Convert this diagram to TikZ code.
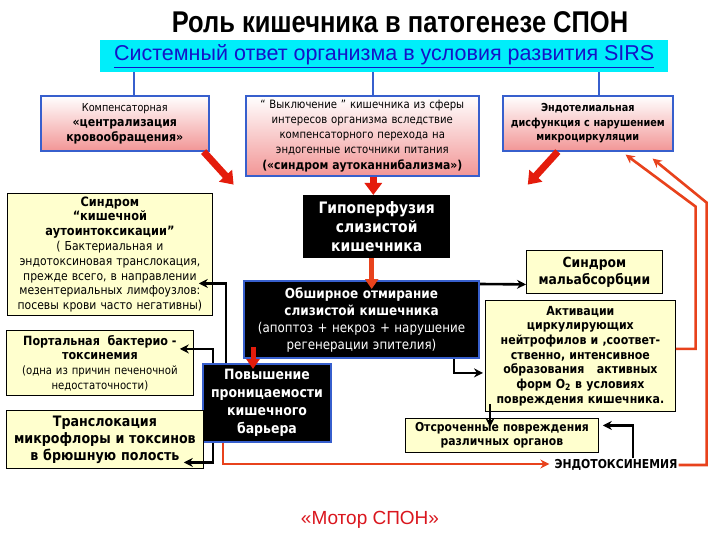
\documentclass[tikz,border=0pt]{standalone}
\usepackage{fontspec}
\setmainfont{DejaVu Sans}[FakeStretch=0.88]
\newfontfamily\titlefont{Liberation Sans}[FakeStretch=0.85]
\newfontfamily\plainfont{Liberation Sans}
\usetikzlibrary{arrows.meta,positioning,calc}
\definecolor{barcyan}{RGB}{0,238,250}
\definecolor{linkblue}{RGB}{20,20,200}
\definecolor{edgeblue}{RGB}{55,95,205}
\definecolor{pinkbot}{RGB}{242,150,150}
\definecolor{paleyel}{RGB}{255,255,206}
\definecolor{arrred}{RGB}{228,28,12}
\definecolor{lineorange}{RGB}{232,66,28}
\definecolor{motorred}{RGB}{218,22,30}
\newcommand{\fsz}[2]{\fontsize{#1}{#2}\selectfont}
\begin{document}
\begin{tikzpicture}[x=1pt,y=-1pt,
    pinkbox/.style={draw=edgeblue,line width=1.6pt,top color=white,bottom color=pinkbot,
      align=center,inner sep=2pt,anchor=north west},
    yelbox/.style={draw=black,line width=0.8pt,fill=paleyel,align=center,inner sep=2pt,anchor=north west},
    darkbox/.style={fill=black,text=white,align=center,inner sep=2pt,anchor=north west},
    bluelink/.style={draw=edgeblue,line width=2pt},
    fatarrow/.style={draw=arrred,line width=7pt,-{Triangle[width=17pt,length=12pt]}},
    blkarrow/.style={draw=black,line width=2.6pt,-{Stealth[length=9pt,width=9pt]}},
    redarrow/.style={draw=lineorange,line width=2.6pt,-{Stealth[length=9pt,width=9pt]}}]
    \path[fill=white] (0,0) rectangle (720,540);
    \useasboundingbox (0,0) rectangle (720,540);
    % Title and top bar
    \node[font=\titlefont\bfseries\fsz{30}{32}] (title) at (400,22) {Роль кишечника в патогенезе СПОН};
    \node[fill=barcyan,minimum width=568pt,minimum height=32pt,anchor=north west,
        font=\plainfont\fsz{21.5}{24},text=linkblue] (sirs) at (100,40)
        {\underline{Системный ответ организма в условия развития SIRS}};
    % Upper row
    \node[pinkbox,text width=164pt,minimum height=55pt,font=\fsz{11}{15}] (compA) at (40,95)
        {Компенсаторная\\{\bfseries\fsz{12.5}{15}«централизация\\кровообращения»}};
    \node[pinkbox,text width=229pt,minimum height=80pt,font=\fsz{11.5}{15.2}] (compB) at (245,95)
        {“ Выключение ” кишечника из сферы\\интересов организма вследствие\\компенсаторного перехода на\\эндогенные источники питания\\{\bfseries\fsz{12.3}{15.2}(«синдром аутоканнибализма»)}};
    \node[pinkbox,text width=166pt,minimum height=55pt,font=\bfseries\fsz{11}{14.5}] (compC) at (502,95)
        {Эндотелиальная\\дисфункция с нарушением\\микроциркуляции};
    \draw[bluelink] ([xshift=9pt]compA.north) -- ([xshift=9pt]compA.north |- sirs.south);
    \draw[bluelink] ([xshift=11pt]compB.north) -- ([xshift=11pt]compB.north |- sirs.south);
    \draw[bluelink] ([xshift=11pt]compC.north) -- ([xshift=11pt]compC.north |- sirs.south);
    % Middle column
    \node[darkbox,text width=143pt,minimum height=63pt,font=\bfseries\fsz{15.8}{19}] (hypo) at (303,195)
        {Гипоперфузия\\слизистой\\кишечника};
    \node[darkbox,draw=edgeblue,line width=2pt,text width=231pt,minimum height=77pt,font=\fsz{13.5}{17}] (death) at (243,280)
        {{\bfseries\fsz{13.7}{17}Обширное отмирание\\слизистой кишечника}\\(апоптоз + некроз + нарушение\\регенерации эпителия)};
    \node[darkbox,draw=edgeblue,line width=2pt,text width=124pt,minimum height=78pt,font=\bfseries\fsz{14.2}{18}] (perm) at (202,363)
        {Повышение\\проницаемости\\кишечного\\барьера};
    % Left column
    \node[yelbox,text width=201pt,minimum height=122pt,font=\fsz{12.3}{14.8}] (autoint) at (7,193)
        {{\bfseries\fsz{12.9}{14.8}Синдром\\ “кишечной\\аутоинтоксикации”}\\( Бактериальная и\\эндотоксиновая транслокация,\\прежде всего, в направлении\\мезентериальных лимфоузлов:\\посевы крови часто негативны)};
    \node[yelbox,text width=183pt,minimum height=65pt,font=\fsz{11.5}{14.6}] (portal) at (6,330)
        {{\bfseries\fsz{12.7}{14.6}Портальная\ \ бактерио -\\токсинемия}\\(одна из причин печеночной\\недостаточности)};
    \node[yelbox,text width=193pt,minimum height=58pt,font=\bfseries\fsz{14.4}{17}] (transl) at (6,410)
        {Транслокация\\микрофлоры и токсинов\\в брюшную полость};
    % Right column
    \node[yelbox,text width=132pt,minimum height=43pt,font=\bfseries\fsz{14}{17}] (malabs) at (526,250)
        {Синдром\\мальабсорбции};
    \node[yelbox,text width=186pt,minimum height=111pt,font=\bfseries\fsz{12.5}{14.7}] (activ) at (485,300)
        {Активации\\циркулирующих\\нейтрофилов и ,соответ-\\ственно, интенсивное\\образования\quad активных\\форм O\textsubscript{2} в условиях\\повреждения кишечника.};
    \node[yelbox,text width=189pt,minimum height=34pt,font=\bfseries\fsz{12.3}{14.5}] (delayed) at (405,418)
        {Отсроченные повреждения\\различных органов};
    \node[font=\bfseries\fsz{12.3}{14},inner sep=1pt] (endotox) at (616,465) {ЭНДОТОКСИНЕМИЯ};
    \node[text=motorred,font=\plainfont\fsz{19}{22}] (motor) at (370,520) {«Мотор СПОН»};
    % Thick red arrows
    \draw[fatarrow] ([xshift=-6pt]compA.south east) -- ++(30,33);
    \draw[fatarrow] ([xshift=11pt]compB.south) -- ([xshift=11pt]compB.south |- hypo.north);
    \draw[fatarrow] ([xshift=-30pt]compC.south) -- ++(-30,33);
    \draw[draw=lineorange,line width=5pt,-{Triangle[width=13pt,length=10pt]}]
        ([xshift=-5pt]hypo.south) -- ([xshift=-5pt,yshift=-9pt]hypo.south |- death.north);
    \draw[draw=arrred,line width=5pt,-{Triangle[width=13pt,length=10pt]}]
        ($(death.south west)+(10,-12)$) -- ($(perm.north west)+(51,6)$);
    % Black connectors
    \draw[blkarrow] ($(perm.north west)+(24,0)$) |- ($(autoint.east)+(-14,29)$);
    \draw[blkarrow] ($(perm.north west)+(11,0)$) |- ($(portal.east)+(-14,-14)$);
    \draw[blkarrow] ($(perm.south west)+(11,0)$) |- ($(transl.east)+(-20,23)$);
    \draw[blkarrow] ($(death.north east)+(0,4)$) -- ($(malabs.west)+(0,12.5)$);
    \draw[blkarrow] ($(death.south east)+(-26,0)$) |- ($(activ.west)+(-2,17)$);
    \draw[blkarrow] ($(activ.south west)+(5,-8)$) -- ($(delayed.north west)+(85,9)$);
    \draw[blkarrow] ($(endotox.north)+(17,0)$) |- ($(delayed.east)+(4,-10)$);
    % Red connectors
    \draw[redarrow] ($(perm.south west)+(21,0)$) |- ($(endotox.west)+(-4,-1)$);
    \draw[redarrow] ($(activ.east)+(0,-7)$) -| ($(compC.south east)+(22,55)$) -- ($(compC.south east)+(-48,3)$);
    \draw[redarrow] (endotox.east) -| ($(compC.south east)+(33,51)$) -- ($(compC.south east)+(-21,7)$);
\end{tikzpicture}
\end{document}
